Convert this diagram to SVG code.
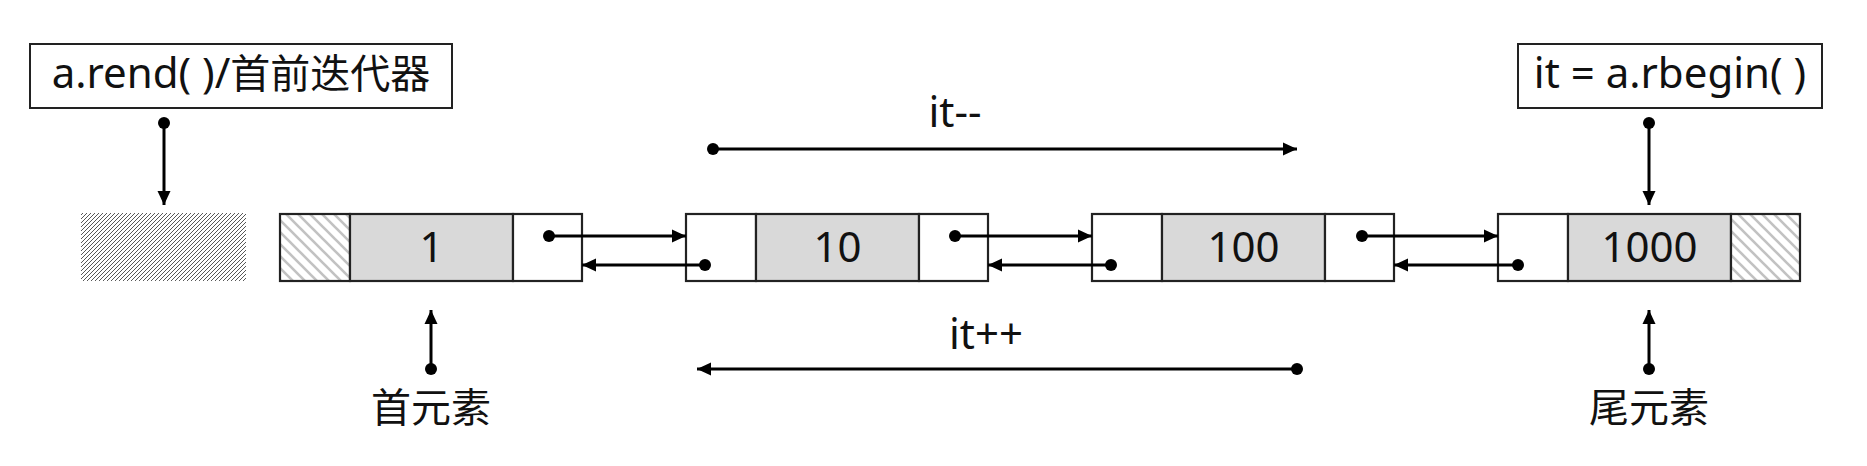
<svg xmlns="http://www.w3.org/2000/svg" width="1867" height="466" viewBox="0 0 1867 466">
<style>
text{font-family:"Noto Sans","Noto Sans CJK SC",sans-serif;fill:#111;text-anchor:middle}
.lbl{font-size:42px}
.cjk{font-size:40px}
.val{font-size:42px}
.box{fill:#fff;stroke:#222;stroke-width:2}
.cell{fill:#fff;stroke:#222;stroke-width:2.2}
.mid{fill:#d9d9d9;stroke:#222;stroke-width:2.2}
.hat{fill:url(#hatchLight);stroke:#222;stroke-width:2.2}
.con{stroke:#000;stroke-width:3;fill:none;marker-start:url(#dot);marker-end:url(#arrow)}
</style>
<defs>
<marker id="arrow" markerUnits="userSpaceOnUse" markerWidth="16" markerHeight="14" refX="14" refY="7" orient="auto">
<path d="M0,0.5 L14,7 L0,13.5 Z" fill="#000"/>
</marker>
<marker id="dot" markerUnits="userSpaceOnUse" markerWidth="14" markerHeight="14" refX="7" refY="7" orient="auto">
<circle cx="7" cy="7" r="6" fill="#000"/>
</marker>
<pattern id="hatchDense" patternUnits="userSpaceOnUse" width="4" height="4">
<rect width="4" height="4" fill="#fff"/>
<path d="M-1,1 L1,-1 M0,4 L4,0 M3,5 L5,3" stroke="#444" stroke-width="0.9"/>
</pattern>
<pattern id="hatchLight" patternUnits="userSpaceOnUse" width="12" height="12">
<rect width="12" height="12" fill="#fff"/>
<path d="M0,0 L12,12 M-2,10 L2,14 M10,-2 L14,2" stroke="#c2c2c2" stroke-width="2.6"/>
</pattern>
</defs>

<g id="label-rend">
<rect class="box" x="30" y="44" width="422" height="64"/>
<text class="lbl" x="241" y="88">a.rend( )/<tspan class="cjk">首前迭代器</tspan></text>
</g>
<g id="label-rbegin">
<rect class="box" x="1518" y="44" width="304" height="64"/>
<text class="lbl" x="1670" y="88">it = a.rbegin( )</text>
</g>

<g id="rend-slot">
<rect x="81" y="213" width="165" height="68" fill="url(#hatchDense)"/>
</g>

<g id="node-1">
<rect class="hat" x="280" y="214" width="70" height="67"/>
<rect class="mid" x="350" y="214" width="163" height="67"/>
<rect class="cell" x="513" y="214" width="69" height="67"/>
<text class="val" x="431.5" y="262">1</text>
</g>
<g id="node-10">
<rect class="cell" x="686" y="214" width="70" height="67"/>
<rect class="mid" x="756" y="214" width="163" height="67"/>
<rect class="cell" x="919" y="214" width="69" height="67"/>
<text class="val" x="837.5" y="262">10</text>
</g>
<g id="node-100">
<rect class="cell" x="1092" y="214" width="70" height="67"/>
<rect class="mid" x="1162" y="214" width="163" height="67"/>
<rect class="cell" x="1325" y="214" width="69" height="67"/>
<text class="val" x="1243.5" y="262">100</text>
</g>
<g id="node-1000">
<rect class="cell" x="1498" y="214" width="70" height="67"/>
<rect class="mid" x="1568" y="214" width="163" height="67"/>
<rect class="hat" x="1731" y="214" width="69" height="67"/>
<text class="val" x="1649.5" y="262">1000</text>
</g>

<g id="label-first">
<text class="cjk" x="431" y="422">首元素</text>
</g>
<g id="label-last">
<text class="cjk" x="1649" y="422">尾元素</text>
</g>
<g id="label-dec">
<text class="lbl" x="955" y="127">it--</text>
</g>
<g id="label-inc">
<text class="lbl" x="986" y="349">it++</text>
</g>

<g id="connectors">
<line class="con" x1="164" y1="123" x2="164" y2="205"/>
<line class="con" x1="1649" y1="123" x2="1649" y2="205"/>
<line class="con" x1="431" y1="369" x2="431" y2="310"/>
<line class="con" x1="1649" y1="369" x2="1649" y2="310"/>
<line class="con" x1="713" y1="149" x2="1297" y2="149"/>
<line class="con" x1="1297" y1="369" x2="697" y2="369"/>
<line class="con" x1="549" y1="236" x2="686" y2="236"/>
<line class="con" x1="955" y1="236" x2="1092" y2="236"/>
<line class="con" x1="1362" y1="236" x2="1498" y2="236"/>
<line class="con" x1="705" y1="265" x2="582" y2="265"/>
<line class="con" x1="1111" y1="265" x2="988" y2="265"/>
<line class="con" x1="1518" y1="265" x2="1394" y2="265"/>
</g>
</svg>
